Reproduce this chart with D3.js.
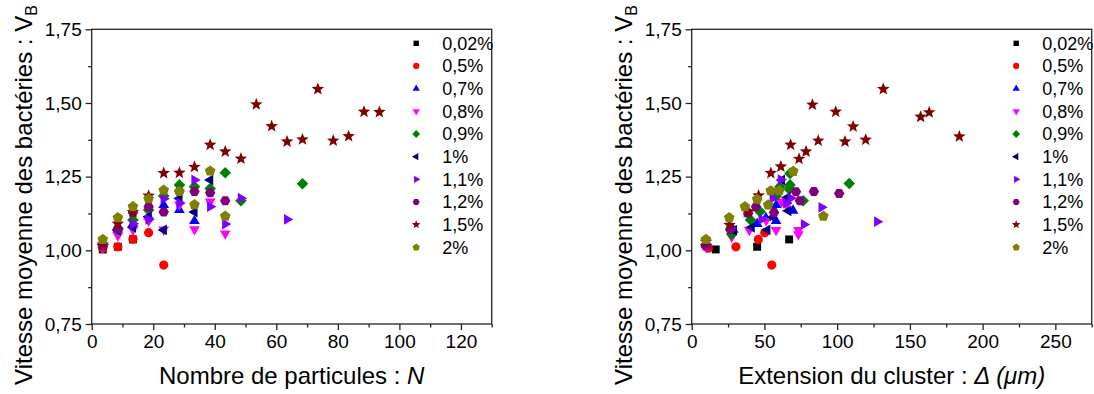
<!DOCTYPE html>
<html><head><meta charset="utf-8">
<script src="https://cdn.jsdelivr.net/npm/d3@7"></script>
<style>
body{margin:0;background:#fff}
svg{display:block}
text{font-family:Arial,"Liberation Sans",sans-serif;fill:#000}
</style>
</head><body><svg id="c" width="1094" height="394"></svg>
<script>
// ---- series meta ----
const seriesLabels = ["0,02%","0,5%","0,7%","0,8%","0,9%","1%","1,1%","1,2%","1,5%","2%"];
const seriesColors = ["#000000","#ff0000","#0000ff","#ff00ff","#008000","#000080","#8000ff","#800080","#800000","#808000"];
const seriesShapes = ["square","circle","triUp","triDown","diamond","triLeft","triRight","hexagon","star","pentagon"];

// ---- left panel: [N, V_B] ----
const left002 = [[3.6,1.003],[8.5,1.012],[13.4,1.037]];
const left05  = [[3.6,1.006],[8.5,1.012],[13.4,1.038],[18.5,1.06],[23.4,0.95]];
const left07  = [[3.6,1.02],[8.5,1.07],[13.4,1.09],[18.5,1.115],[23.4,1.154],[28.5,1.137],[33.4,1.1]];
const left08  = [[3.6,1.01],[8.5,1.05],[13.4,1.07],[18.5,1.10],[23.4,1.07],[28.5,1.155],[33.4,1.071],[38.5,1.165],[43.4,1.057]];
const left09  = [[3.6,1.02],[8.5,1.07],[13.4,1.103],[18.5,1.137],[23.4,1.184],[28.5,1.222],[33.4,1.216],[38.5,1.21],[43.4,1.263],[48.5,1.168],[68.5,1.226]];
const left1   = [[3.6,1.02],[8.5,1.068],[13.4,1.078],[18.5,1.114],[23.4,1.069],[28.5,1.176],[33.4,1.13],[38.5,1.239]];
const left11  = [[3.6,1.02],[8.5,1.075],[13.4,1.09],[18.5,1.105],[23.4,1.175],[28.5,1.16],[33.4,1.239],[38.5,1.148],[43.4,1.089],[48.5,1.177],[63.5,1.105]];
const left12  = [[3.6,1.015],[8.5,1.074],[13.4,1.128],[18.5,1.148],[23.4,1.13],[28.5,1.2],[33.4,1.2],[38.5,1.195],[43.4,1.168]];
const left15  = [[3.6,1.02],[8.5,1.09],[13.4,1.13],[18.5,1.185],[23.4,1.262],[28.5,1.263],[33.4,1.283],[38.5,1.358],[43.4,1.335],[48.5,1.311],[53.5,1.495],[58.5,1.421],[63.5,1.369],[68.5,1.376],[73.5,1.547],[78.5,1.372],[83.5,1.387],[88.5,1.47],[93.5,1.469]];
const left2   = [[3.6,1.037],[8.5,1.111],[13.4,1.148],[18.5,1.175],[23.4,1.204],[28.5,1.2],[33.4,1.155],[38.5,1.269],[43.4,1.116]];

// ---- right panel: [Delta (um), V_B] ----
const right002 = [[16.5,1.003],[45,1.012],[67,1.037]];
const right05  = [[11.4,1.007],[30.4,1.012],[45.8,1.037],[50.2,1.06],[55,0.95]];
const right07  = [[10,1.02],[28.6,1.07],[45,1.09],[51,1.11],[58.2,1.154],[69.7,1.135],[58,1.1]];
const right08  = [[10,1.01],[27.5,1.046],[39.6,1.069],[51.2,1.102],[58,1.069],[65.3,1.154],[73.3,1.069],[62,1.165],[73.3,1.054]];
const right09  = [[10,1.02],[27.5,1.055],[40.5,1.103],[47,1.131],[58,1.184],[60.7,1.216],[67.1,1.207],[67.6,1.261],[76.7,1.168],[108.3,1.227],[67.6,1.222]];
const right1   = [[10,1.02],[29,1.068],[41.2,1.078],[55.7,1.112],[52,1.069],[65.7,1.179],[66.4,1.134],[62,1.239]];
const right11  = [[10,1.02],[27,1.075],[37.8,1.13],[48,1.105],[55.7,1.176],[65,1.16],[61.3,1.24],[89.3,1.146],[77.2,1.088],[68,1.177],[127.5,1.097]];
const right12  = [[9.5,1.015],[26.5,1.071],[38.9,1.126],[44.2,1.148],[56.6,1.128],[71.7,1.199],[84,1.2],[101.4,1.193],[74.4,1.168]];
const right15  = [[9.8,1.029],[26,1.086],[39,1.132],[46,1.186],[54.4,1.262],[61.3,1.284],[68,1.358],[73.8,1.31],[78.6,1.335],[83,1.494],[87,1.372],[99,1.47],[105.4,1.369],[111,1.42],[119.6,1.375],[131.7,1.547],[157.4,1.453],[163.3,1.468],[184,1.386]];
const right2   = [[9.8,1.037],[25.8,1.111],[36.6,1.148],[45,1.173],[54.3,1.202],[60.2,1.202],[52.6,1.154],[69.8,1.268],[90.5,1.116]];

const leftSeries  = [left002,left05,left07,left08,left09,left1,left11,left12,left15,left2];
const rightSeries = [right002,right05,right07,right08,right09,right1,right11,right12,right15,right2];

// ---- ticks ----
const yTicks = [0.75,1.00,1.25,1.50,1.75];
const yMinor = [0.875,1.125,1.375,1.625];
const leftXTicks = [0,20,40,60,80,100,120];
const leftXMinor = [10,30,50,70,90,110,130];
const rightXTicks = [0,50,100,150,200,250];
const rightXMinor = [25,75,125,175,225,275];

// ---- shapes ----
function poly(n, r, rot){
  const pts=[];
  for(let i=0;i<n;i++){
    const a=(rot+ i*360/n)*Math.PI/180;
    pts.push([r*Math.cos(a), r*Math.sin(a)]);
  }
  return "M"+pts.map(p=>p[0].toFixed(2)+","+p[1].toFixed(2)).join("L")+"Z";
}
function star(ro, ri){
  const pts=[];
  for(let i=0;i<10;i++){
    const r=i%2?ri:ro; const a=(-90+i*36)*Math.PI/180;
    pts.push([r*Math.cos(a), r*Math.sin(a)]);
  }
  return "M"+pts.map(p=>p[0].toFixed(2)+","+p[1].toFixed(2)).join("L")+"Z";
}
function shapePath(s, k){
  switch(s){
    case "square": return poly(4,5.6*k,45);
    case "circle": return d3.symbol(d3.symbolCircle, Math.PI*4.6*4.6*k*k)();
    case "triUp": return poly(3,6.2*k,-90);
    case "triDown": return poly(3,6.2*k,90);
    case "diamond": return poly(4,5.8*k,0);
    case "triLeft": return poly(3,6.2*k,180);
    case "triRight": return poly(3,6.2*k,0);
    case "hexagon": return poly(6,5.2*k,0);
    case "star": return star(6.6*k,2.8*k);
    case "pentagon": return poly(5,5.6*k,-90);
  }
}

const svg = d3.select("#c");
const plotTop = 29.3, plotBottom = 324, plotW = 400;
const fmtY = d => d.toFixed(2).replace(".",",");

function panel(x0, xDomain, xTicks, xMinor, data, xTitleParts){
  const x = d3.scaleLinear().domain(xDomain).range([x0, x0+plotW]);
  const y = d3.scaleLinear().domain([0.75,1.75]).range([plotBottom, plotTop]);
  const g = svg.append("g");

  // frame
  g.append("rect").attr("x",x0).attr("y",plotTop).attr("width",plotW).attr("height",plotBottom-plotTop)
    .attr("fill","none").attr("stroke","#222").attr("stroke-width",1.3);

  // y axis
  const ya = g.append("g").attr("transform",`translate(${x0},0)`)
    .call(d3.axisLeft(y).tickValues(yTicks).tickSize(6).tickPadding(4).tickFormat(fmtY));
  const yam = g.append("g").attr("transform",`translate(${x0},0)`)
    .call(d3.axisLeft(y).tickValues(yMinor).tickSize(3.5).tickFormat(""));
  // x axis
  const xa = g.append("g").attr("transform",`translate(0,${plotBottom})`)
    .call(d3.axisBottom(x).tickValues(xTicks).tickSize(6).tickPadding(5).tickFormat(d=>String(d)));
  const xam = g.append("g").attr("transform",`translate(0,${plotBottom})`)
    .call(d3.axisBottom(x).tickValues(xMinor).tickSize(3.5).tickFormat(""));
  [ya,yam,xa,xam].forEach(a=>{
    a.select(".domain").remove();
    a.selectAll("line").attr("stroke","#222").attr("stroke-width",1.3);
    a.selectAll("text").attr("font-size",19).attr("fill","#000")
      .style("font-family","Arial, 'Liberation Sans', sans-serif");
  });

  // data
  data.forEach((ser,i)=>{
    g.append("g").selectAll("path").data(ser).enter().append("path")
      .attr("d",shapePath(seriesShapes[i],1))
      .attr("transform",d=>`translate(${x(d[0])},${y(d[1])})`)
      .attr("fill",seriesColors[i]);
  });

  // legend
  const lx = x0 + 324.5, ly0 = 43.3, dy = 22.67;
  seriesLabels.forEach((lab,i)=>{
    g.append("path").attr("d",shapePath(seriesShapes[i],0.68))
      .attr("transform",`translate(${lx},${ly0+i*dy})`).attr("fill",seriesColors[i]);
    g.append("text").attr("x",lx+26).attr("y",ly0+i*dy+6.5).attr("font-size",18).text(lab);
  });

  // y title
  const yt = g.append("text").attr("transform",`translate(${x0-59.5},195) rotate(-90)`)
    .attr("text-anchor","middle").attr("font-size",24);
  yt.append("tspan").text("Vitesse moyenne des bactéries : V");
  yt.append("tspan").attr("font-size",16).attr("dy",5).text("B");

  // x title
  const xt = g.append("text").attr("x",x0+plotW/2).attr("y",384).attr("text-anchor","middle").attr("font-size",24);
  xTitleParts.forEach(p=>{
    const t = xt.append("tspan").text(p[0]);
    if(p[1]) t.attr("font-style","italic");
  });
}

panel(91.7,[0,130],leftXTicks,leftXMinor,leftSeries,[["Nombre de particules : ",false],["N",true]]);
panel(691.7,[0,275],rightXTicks,rightXMinor,rightSeries,[["Extension du cluster : ",false],["Δ (μm)",true]]);
</script>
</body></html>
